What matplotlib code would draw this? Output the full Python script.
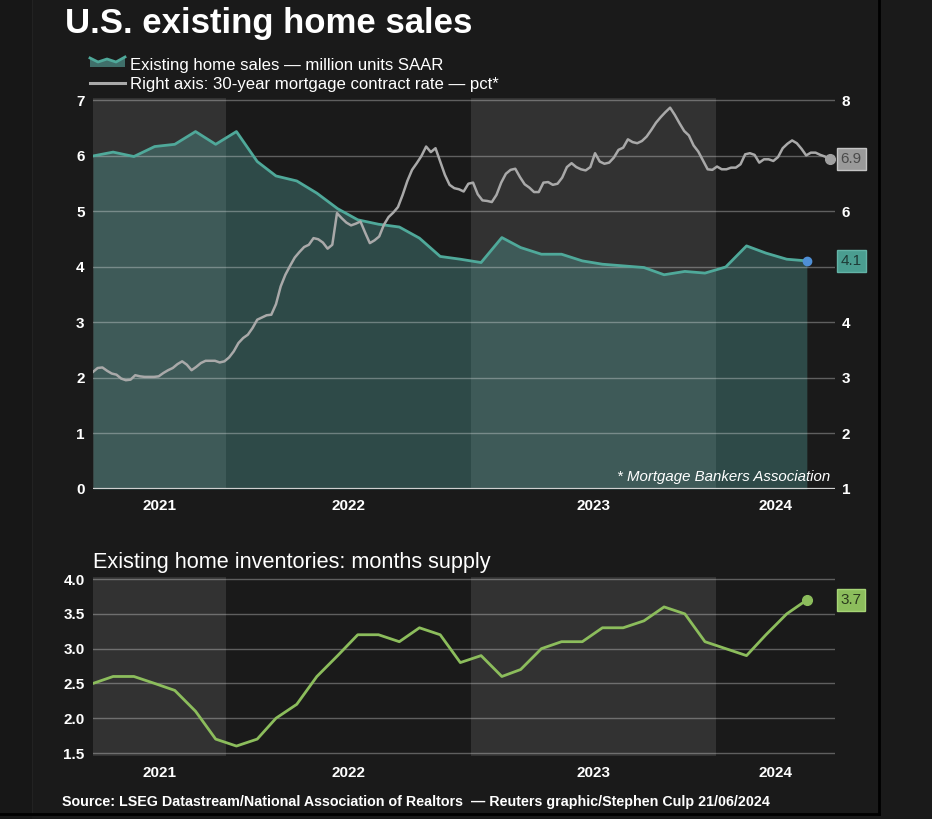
import matplotlib
matplotlib.use('Agg')
import matplotlib.pyplot as plt
import matplotlib.transforms as mtransforms
import pandas as pd
from matplotlib.lines import Line2D
from matplotlib.patches import Polygon, Rectangle

# monthly data, Jun 2021 - May 2024
months = pd.date_range('2021-06-01', periods=36, freq='MS') + pd.Timedelta(days=15)
sales = [6.00, 6.07, 5.99, 6.17, 6.21, 6.44, 6.21, 6.44, 5.90, 5.64, 5.55, 5.33,
         5.05, 4.85, 4.77, 4.72, 4.52, 4.19, 4.14, 4.08, 4.53, 4.35, 4.23, 4.23,
         4.11, 4.05, 4.02, 3.99, 3.86, 3.92, 3.89, 4.00, 4.38, 4.25, 4.14, 4.11]
supply = [2.5, 2.6, 2.6, 2.5, 2.4, 2.1, 1.7, 1.6, 1.7, 2.0, 2.2, 2.6,
          2.9, 3.2, 3.2, 3.1, 3.3, 3.2, 2.8, 2.9, 2.6, 2.7, 3.0, 3.1,
          3.1, 3.3, 3.3, 3.4, 3.6, 3.5, 3.1, 3.0, 2.9, 3.2, 3.5, 3.7]

# weekly 30-year mortgage contract rate, mid Jun 2021 - mid Jun 2024
weeks = pd.date_range('2021-06-16', periods=158, freq='7D')
rate = [3.11, 3.18, 3.19, 3.13, 3.08, 3.06, 2.99, 2.96, 2.97, 3.05,
        3.03, 3.02, 3.02, 3.02, 3.03, 3.09, 3.14, 3.18, 3.25, 3.30,
        3.24, 3.14, 3.20, 3.27, 3.31, 3.31, 3.31, 3.28, 3.30, 3.37,
        3.48, 3.63, 3.72, 3.78, 3.90, 4.05, 4.09, 4.13, 4.14, 4.33,
        4.65, 4.86, 5.02, 5.17, 5.27, 5.36, 5.40, 5.52, 5.50, 5.44,
        5.33, 5.40, 5.97, 5.88, 5.80, 5.75, 5.78, 5.82, 5.62, 5.43,
        5.48, 5.55, 5.76, 5.90, 5.98, 6.08, 6.30, 6.55, 6.75, 6.87,
        7.00, 7.17, 7.07, 7.14, 6.90, 6.66, 6.48, 6.42, 6.40, 6.36,
        6.50, 6.52, 6.31, 6.20, 6.19, 6.17, 6.30, 6.52, 6.68, 6.75,
        6.77, 6.62, 6.49, 6.43, 6.35, 6.35, 6.52, 6.53, 6.48, 6.50,
        6.61, 6.80, 6.87, 6.80, 6.76, 6.74, 6.80, 7.05, 6.90, 6.86,
        6.88, 6.97, 7.11, 7.15, 7.30, 7.25, 7.23, 7.27, 7.35, 7.47,
        7.60, 7.70, 7.79, 7.87, 7.74, 7.59, 7.45, 7.37, 7.19, 7.08,
        6.92, 6.76, 6.75, 6.81, 6.76, 6.76, 6.79, 6.79, 6.85, 7.03,
        7.05, 7.02, 6.88, 6.94, 6.94, 6.91, 6.98, 7.14, 7.22, 7.28,
        7.23, 7.13, 7.01, 7.06, 7.06, 7.02, 6.99, 6.94]

years = [2021, 2022, 2023, 2024]
shaded_years = [2021, 2023]

BG = '#1a1a1a'
BAND = '#323232'
TEAL = '#4fa99a'
GREY = '#a9a9a9'
GREEN = '#8cbd5c'

plt.rcParams['font.family'] = ['Liberation Sans', 'DejaVu Sans']

W, H = 932, 819


def px(x, y):
    return x / W, 1 - y / H


x0 = pd.Timestamp('2021-06-16')
x1 = pd.Timestamp('2024-06-27')


def style_time_axis(a):
    a.set_xlim(x0, x1)
    a.set_facecolor(BG)
    for s in a.spines.values():
        s.set_visible(False)
    for yr in shaded_years:
        a.axvspan(max(x0, pd.Timestamp(f'{yr}-01-01')),
                  min(x1, pd.Timestamp(f'{yr + 1}-01-01')),
                  color=BAND, lw=0, zorder=0)
    mids = []
    for yr in years:
        lo = max(x0, pd.Timestamp(f'{yr}-01-01'))
        hi = min(x1, pd.Timestamp(f'{yr + 1}-01-01'))
        mids.append(lo + (hi - lo) / 2)
    a.set_xticks(mids, [str(y) for y in years], fontweight='bold')
    a.tick_params(axis='x', length=0, pad=7, labelcolor='white', labelsize=11)
    a.tick_params(axis='y', length=0, pad=6, labelcolor='white', labelsize=11)
    a.grid(axis='y', color='white', alpha=0.3, lw=1)
    a.set_axisbelow(False)


def value_box(a, ycoords, value, fc, ec, tc):
    trans = mtransforms.blended_transform_factory(a.transAxes, ycoords)
    a.annotate(f'{value:.1f}', xy=(1, value), xycoords=trans,
               xytext=(4, 0), textcoords='offset points', ha='left', va='center',
               fontsize=11, color=tc, annotation_clip=False, zorder=10,
               bbox=dict(boxstyle='square,pad=0.25', fc=fc, ec=ec, lw=1))


fig = plt.figure(figsize=(W / 100, H / 100), dpi=100, facecolor=BG)
fig.add_artist(Rectangle((0, 0), 32 / W, 1, transform=fig.transFigure,
                         fc='#171717', ec='none', zorder=-1))
fig.add_artist(Line2D([32 / W, 32 / W], [1 - 814 / H, 1], color='#222222', lw=0.8,
                      transform=fig.transFigure, zorder=-1))

# ---- top chart
ax = fig.add_axes([93 / W, 330 / H, 742 / W, 391.3 / H])
style_time_axis(ax)
ax.set_ylim(0, 7.05)
ax.set_yticks(range(8), [str(v) for v in range(8)], fontweight='bold')
ax.fill_between(months, sales, 0, color='#57a8a2', alpha=0.34, lw=0, zorder=1)
ax.plot(months, sales, color=TEAL, lw=2, zorder=3)
ax.plot(months[-1], sales[-1], 'o', color='#4f8fd6', ms=6, zorder=5)
ax.axhline(0, color='#cfcfcf', lw=1.6, zorder=4)

ax2 = ax.twinx()
ax2.set_ylim(1, 8.05)
# right-hand labels hidden behind the end-value boxes are left blank
right_ticks = list(range(1, 9))
covered = [rate[-1], sales[-1] + 1]
right_labels = ['' if min(abs(t - c) for c in covered) < 0.4 else str(t) for t in right_ticks]
ax2.set_yticks(right_ticks, right_labels, fontweight='bold')
ax2.tick_params(axis='y', length=0, pad=5, labelcolor='white', labelsize=11)
for s in ax2.spines.values():
    s.set_visible(False)
ax2.plot(weeks, rate, color=GREY, lw=1.8, zorder=3)
ax2.plot(weeks[-1], rate[-1], 'o', color='#a0a0a0', ms=7, zorder=5)

value_box(ax2, ax2.transData, rate[-1], '#9a9a9a', '#c4c4c4', '#4a4a4a')
value_box(ax2, ax.transData, sales[-1], '#4a9d90', '#63b3a6', '#1e3a36')

fig.text(*px(830, 481), '* Mortgage Bankers Association', color='white',
         fontsize=10.8, style='italic', ha='right', va='baseline')

# ---- bottom chart
axb = fig.add_axes([93 / W, 63 / H, 742 / W, 179 / H])
style_time_axis(axb)
axb.set_ylim(1.457, 4.03)
ticks_b = [1.5, 2.0, 2.5, 3.0, 3.5, 4.0]
axb.set_yticks(ticks_b, [f'{v:.1f}' for v in ticks_b], fontweight='bold')
axb.plot(months, supply, color=GREEN, lw=2, zorder=3)
axb.plot(months[-1], supply[-1], 'o', color=GREEN, ms=7, zorder=5)
value_box(axb, axb.transData, supply[-1], GREEN, '#a6d476', '#2b3a1d')

# ---- titles, legend, source
fig.text(*px(65, 33), 'U.S. existing home sales', color='white', fontsize=25,
         fontweight='bold', va='baseline')

icon_pts = [px(90, 58), px(98, 62), px(107, 59), px(116, 62), px(125, 57)]
fig.add_artist(Polygon(icon_pts + [px(125, 67), px(90, 67)], closed=True,
                       transform=fig.transFigure, fc='#3f6f6a', ec='none'))
fig.add_artist(Line2D([p[0] for p in icon_pts], [p[1] for p in icon_pts],
                      color=TEAL, lw=2, transform=fig.transFigure))
fig.add_artist(Line2D([px(90, 83)[0], px(125, 83)[0]], [px(90, 83)[1]] * 2,
                      color=GREY, lw=2.2, transform=fig.transFigure))
fig.text(*px(130, 70), 'Existing home sales — million units SAAR', color='white',
         fontsize=12.1, va='baseline')
fig.text(*px(130, 89), 'Right axis: 30-year mortgage contract rate — pct*', color='white',
         fontsize=12.1, va='baseline')

fig.text(*px(93, 568), 'Existing home inventories: months supply', color='white',
         fontsize=15.6, va='baseline')

fig.text(*px(62, 806),
         'Source: LSEG Datastream/National Association of Realtors  — Reuters graphic/Stephen Culp 21/06/2024',
         color='white', fontsize=10.25, fontweight='bold', va='baseline')

# frame edge of the graphic
fig.add_artist(Line2D([879 / W, 879 / W], [1 - 814 / H, 1], color='black', lw=2,
                      transform=fig.transFigure))
fig.add_artist(Line2D([0, 879 / W], [1 - 814 / H, 1 - 814 / H], color='black', lw=2,
                      transform=fig.transFigure))

fig.savefig('out.png', dpi=100, facecolor=BG)
